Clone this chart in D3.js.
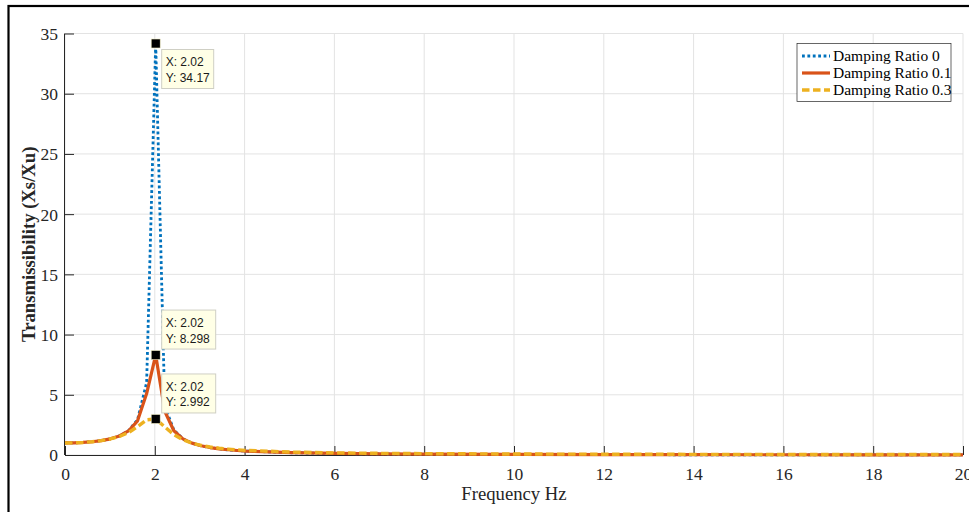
<!DOCTYPE html>
<html>
<head>
<meta charset="utf-8">
<script src="https://cdn.jsdelivr.net/npm/d3@7"></script>
<style>
  html, body { margin: 0; padding: 0; background: #fff; overflow: hidden; }
  svg { display: block; }
</style>
</head>
<body>
<svg id="chart" width="969" height="512"></svg>
<script>
// ---- data ----
const frequency = [0, 0.202, 0.404, 0.606, 0.808, 1.010, 1.212, 1.414, 1.616, 1.818,
  2.020, 2.222, 2.424, 2.626, 2.828, 3.030, 3.232, 3.434, 3.636, 3.838, 4.040,
  5.051, 6.061, 7.071, 8.081, 10.101, 12.121, 14.141, 16.162, 18.182, 20];
const ratio0 = [1, 1.0104, 1.0429, 1.1021, 1.1971, 1.3465, 1.5886, 2.0175, 2.9300, 6.0132,
  34.17, 4.0751, 2.0742, 1.3524, 0.9830, 0.7600, 0.6117, 0.5065, 0.4283, 0.3682, 0.3208,
  0.1841, 0.1210, 0.0862, 0.0647, 0.0404, 0.0277, 0.0202, 0.0154, 0.0121, 0.0100];
const ratio01 = [1, 1.0104, 1.0429, 1.1019, 1.1966, 1.3446, 1.5827, 1.9969, 2.8369, 5.0990,
  8.298, 3.6338, 2.0102, 1.3397, 0.9834, 0.7649, 0.6183, 0.5139, 0.4360, 0.3761, 0.3287,
  0.1916, 0.1282, 0.0931, 0.0714, 0.0469, 0.0340, 0.0262, 0.0212, 0.0177, 0.0154];
const ratio03 = [1, 1.0104, 1.0427, 1.1008, 1.1921, 1.3302, 1.5390, 1.8596, 2.3450, 2.9240,
  2.992, 2.3340, 1.6917, 1.2642, 0.9863, 0.7978, 0.6641, 0.5652, 0.4897, 0.4306, 0.3831,
  0.2424, 0.1749, 0.1362, 0.1115, 0.0819, 0.0649, 0.0539, 0.0462, 0.0404, 0.0364];
const seriesNames = ["Damping Ratio 0", "Damping Ratio 0.1", "Damping Ratio 0.3"];
const xTicks = [0, 2, 4, 6, 8, 10, 12, 14, 16, 18, 20];
const yTicks = [0, 5, 10, 15, 20, 25, 30, 35];
const tipX = [2.02, 2.02, 2.02];
const tipY = [34.17, 8.298, 2.992];
const tipLabelsY = ["34.17", "8.298", "2.992"];

// ---- layout ----
const L = 65, R = 963, T = 33.5, B = 455;
const svg = d3.select("#chart");
const x = d3.scaleLinear().domain([0, 20]).range([L, R]);
const y = d3.scaleLinear().domain([0, 35]).range([B, T]);
const axisColor = "#262626";
const serif = "'Liberation Serif', 'Times New Roman', serif";
const sans = "'Liberation Sans', Arial, Helvetica, sans-serif";

// figure frame
svg.append("rect").attr("x", 8.5).attr("y", 6).attr("width", 2000).attr("height", 2000)
  .attr("fill", "none").attr("stroke", "#000").attr("stroke-width", 2.2);

// grid
const grid = svg.append("g");
grid.selectAll("line.gx").data(xTicks).join("line")
  .attr("x1", d => x(d)).attr("x2", d => x(d)).attr("y1", T).attr("y2", B)
  .attr("stroke", "#e3e3e3").attr("stroke-width", 1);
grid.selectAll("line.gy").data(yTicks).join("line")
  .attr("x1", L).attr("x2", R).attr("y1", d => y(d)).attr("y2", d => y(d))
  .attr("stroke", "#e3e3e3").attr("stroke-width", 1);

// axes
const xAxis = d3.axisBottom(x).tickValues(xTicks).tickSize(-9).tickPadding(13).tickFormat(d3.format("d"));
const yAxis = d3.axisLeft(y).tickValues(yTicks).tickSize(-9).tickPadding(7).tickFormat(d3.format("d"));
const gx = svg.append("g").attr("transform", `translate(0,${B})`).call(xAxis);
const gy = svg.append("g").attr("transform", `translate(${L},0)`).call(yAxis);
[gx, gy].forEach(g => {
  g.select(".domain").attr("stroke", axisColor).attr("stroke-width", 1).attr("d",
    g === gx ? `M${L},0.5H${R}` : `M-0.5,${B}V${T}`);
  g.selectAll(".tick line").attr("stroke", axisColor);
  g.selectAll(".tick text").attr("fill", axisColor)
    .style("font-family", serif).style("font-size", "17.5px");
});
gx.selectAll(".tick text").attr("dy", "0.71em");
gy.selectAll(".tick text").attr("dy", "0.34em");

// axis labels
svg.append("text").attr("x", (L + R) / 2).attr("y", 500).attr("text-anchor", "middle")
  .style("font-family", serif).style("font-size", "18.7px").attr("fill", axisColor)
  .text("Frequency Hz");
svg.append("text").attr("transform", `translate(35,${(T + B) / 2}) rotate(-90)`)
  .attr("text-anchor", "middle").style("font-family", serif).style("font-size", "18.7px")
  .style("font-weight", "bold").attr("fill", axisColor)
  .text("Transmissibility (Xs/Xu)");

// lines
const styles = [
  { color: "#0072BD", width: 2.8, dash: "2.8,2.6" },
  { color: "#D95319", width: 3.2, dash: null },
  { color: "#EDB120", width: 3.4, dash: "7.5,3.5" }
];
const seriesData = [ratio0, ratio01, ratio03];
const lineGen = d3.line().x(d => x(d[0])).y(d => y(d[1]));
const plot = svg.append("g");
seriesData.forEach((vals, i) => {
  const pts = frequency.map((f, j) => [f, vals[j]]);
  plot.append("path").datum(pts).attr("d", lineGen)
    .attr("fill", "none").attr("stroke", styles[i].color)
    .attr("stroke-width", styles[i].width)
    .attr("stroke-dasharray", styles[i].dash)
    .attr("stroke-linejoin", "round");
});

// data tips
const tips = svg.append("g");
tipX.forEach((tx, i) => {
  const px = x(tx), py = y(tipY[i]);
  const top = i === 0 ? py + 6 : py - 6 - 39;
  const g = tips.append("g");
  g.append("rect").attr("x", px + 6).attr("y", top).attr("width", i === 0 ? 52 : 54).attr("height", 39)
    .attr("fill", "#ffffe6").attr("stroke", "#cfcfc4").attr("stroke-width", 1);
  g.append("text").attr("x", px + 10).attr("y", top + 17)
    .style("font-family", sans).style("font-size", "12px").attr("fill", "#1a1a1a")
    .text("X: " + tx.toFixed(2));
  g.append("text").attr("x", px + 10).attr("y", top + 32.5)
    .style("font-family", sans).style("font-size", "12px").attr("fill", "#1a1a1a")
    .text("Y: " + tipLabelsY[i]);
  g.append("rect").attr("x", px - 4.5).attr("y", py - 4.5).attr("width", 9).attr("height", 9)
    .attr("fill", "#000").attr("stroke", "#f4f0c8").attr("stroke-width", 0.6);
});

// legend
const lg = svg.append("g");
lg.append("rect").attr("x", 797).attr("y", 43.5).attr("width", 154).attr("height", 58)
  .attr("fill", "#fff").attr("stroke", axisColor).attr("stroke-width", 0.7);
const rowBase = [61, 78, 95];
seriesNames.forEach((name, i) => {
  const cy = rowBase[i] - 5;
  lg.append("line").attr("x1", 802).attr("x2", 830).attr("y1", cy).attr("y2", cy)
    .attr("stroke", styles[i].color).attr("stroke-width", styles[i].width)
    .attr("stroke-dasharray", styles[i].dash);
  lg.append("text").attr("x", 833).attr("y", rowBase[i])
    .style("font-family", serif).style("font-size", "15.5px").attr("fill", "#000")
    .text(name);
});
</script>
</body>
</html>
